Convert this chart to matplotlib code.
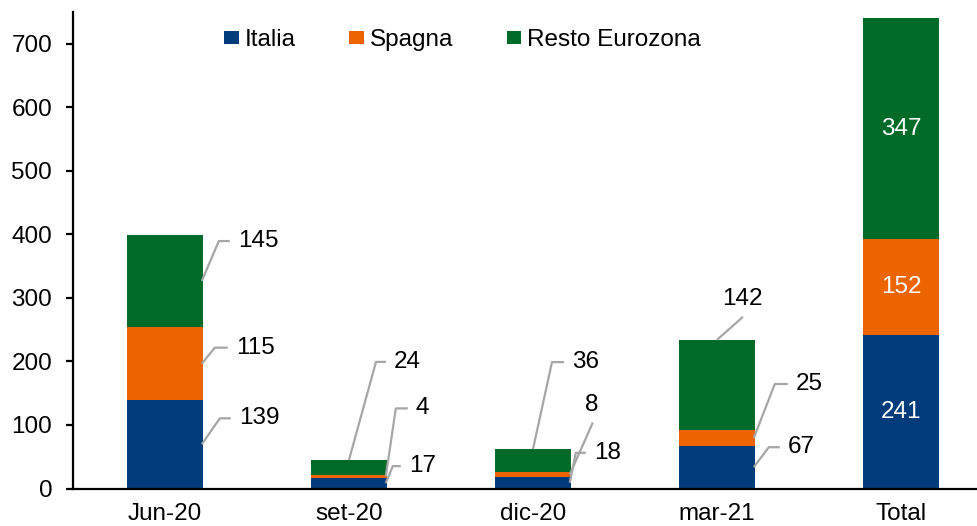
import matplotlib
matplotlib.use("Agg")
import matplotlib.pyplot as plt
import numpy as np

plt.rcParams["font.family"] = ["Liberation Sans", "DejaVu Sans"]

# --- data -------------------------------------------------------------
categories = ["Jun-20", "set-20", "dic-20", "mar-21", "Total"]
series_names = ["Italia", "Spagna", "Resto Eurozona"]
italia = [139, 17, 18, 67, 241]
spagna = [115, 4, 8, 25, 152]
resto = [145, 24, 36, 142, 347]
y_ticks = [0, 100, 200, 300, 400, 500, 600, 700]

colors = ["#003B7B", "#EC6502", "#006B28"]
leader_color = "#A6A6A6"
FS = 17.5

# --- figure -----------------------------------------------------------
W, H = 978, 526
fig = plt.figure(figsize=(W / 100, H / 100), dpi=100)
ax = fig.add_axes([73 / W, 37.5 / H, 920 / W, 476.5 / H])

x = np.arange(len(categories))
width = 0.41
values = [italia, spagna, resto]
bottoms = np.zeros(len(categories))
bar_bottoms = []
for vals, col, name in zip(values, colors, series_names):
    ax.bar(x, vals, width, bottom=bottoms, color=col, label=name, linewidth=0)
    bar_bottoms.append(bottoms.copy())
    bottoms = bottoms + np.array(vals)

ax.set_xlim(-0.5, len(categories) - 0.5)
ax.set_ylim(0, 750)
ax.set_yticks(y_ticks)
ax.set_xticks(x)
ax.set_xticklabels(categories)

for side in ["top", "right"]:
    ax.spines[side].set_visible(False)
for side in ["left", "bottom"]:
    ax.spines[side].set_linewidth(1.6)
ax.tick_params(axis="y", length=5, width=1.6, pad=10, labelsize=FS)
ax.tick_params(axis="x", length=0, pad=10.5, labelsize=FS)

# --- value labels -----------------------------------------------------
# (category, series): anchor kind, dx px, dy px, horizontal run px, text side
leaders = {
    (0, 0): ("edge", 18, 26, 11, "right"),
    (0, 1): ("edge", 13, 16, 13, "right"),
    (0, 2): ("edge", 17, 40, 11, "right"),
    (1, 0): ("edge", 7, 17, 8, "right"),
    (1, 1): ("edge", 10, 68, 12, "right"),
    (1, 2): ("top", 27, 98, 10, "right"),
    (2, 0): ("edge", 6, 30, 10, "right"),
    (2, 1): ("edge", 23, 52, 0, "above"),
    (2, 2): ("top", 19, 87, 12, "right"),
    (3, 0): ("edge", 15, 20, 11, "right"),
    (3, 1): ("edge", 21, 54, 13, "right"),
    (3, 2): ("top", 26, 23, 0, "above"),
}

to_disp = ax.transData.transform
to_data = ax.transData.inverted().transform

for (ci, si), (kind, dx, dy, run, side) in leaders.items():
    v = values[si][ci]
    b = bar_bottoms[si][ci]
    if kind == "edge":
        anchor = (x[ci] + width / 2 - 0.005, b + v / 2)
    else:
        anchor = (x[ci], b + v)
    ax_px, ay_px = to_disp(anchor)
    pts_px = [(ax_px, ay_px), (ax_px + dx, ay_px + dy), (ax_px + dx + run, ay_px + dy)]
    pts = to_data(pts_px)
    ax.plot(pts[:, 0], pts[:, 1], color=leader_color, lw=1.6,
            solid_capstyle="butt", clip_on=False, zorder=3)
    ex, ey = pts_px[-1]
    if side == "right":
        tx, ty = to_data((ex + 8, ey))
        ax.text(tx, ty, str(v), ha="left", va="center", fontsize=FS,
                color="black")
    else:
        tx, ty = to_data((ex - 1, ey + 18))
        ax.text(tx, ty, str(v), ha="center", va="center", fontsize=FS,
                color="black")

# Total bar: white labels centred in each segment
ti = len(categories) - 1
for si in range(3):
    v = values[si][ti]
    ax.text(x[ti], bar_bottoms[si][ti] + v / 2, str(v), ha="center",
            va="center", fontsize=FS, color="white")

# --- legend -----------------------------------------------------------
ax.legend(loc="center left", bbox_to_anchor=(224 / W, 1 - 40 / H),
          bbox_transform=fig.transFigure, ncol=3, frameon=False,
          fontsize=FS, borderpad=0, borderaxespad=0,
          handlelength=0.6, handleheight=0.47, handletextpad=0.25,
          columnspacing=2.2)

fig.savefig("out.png", dpi=100)
